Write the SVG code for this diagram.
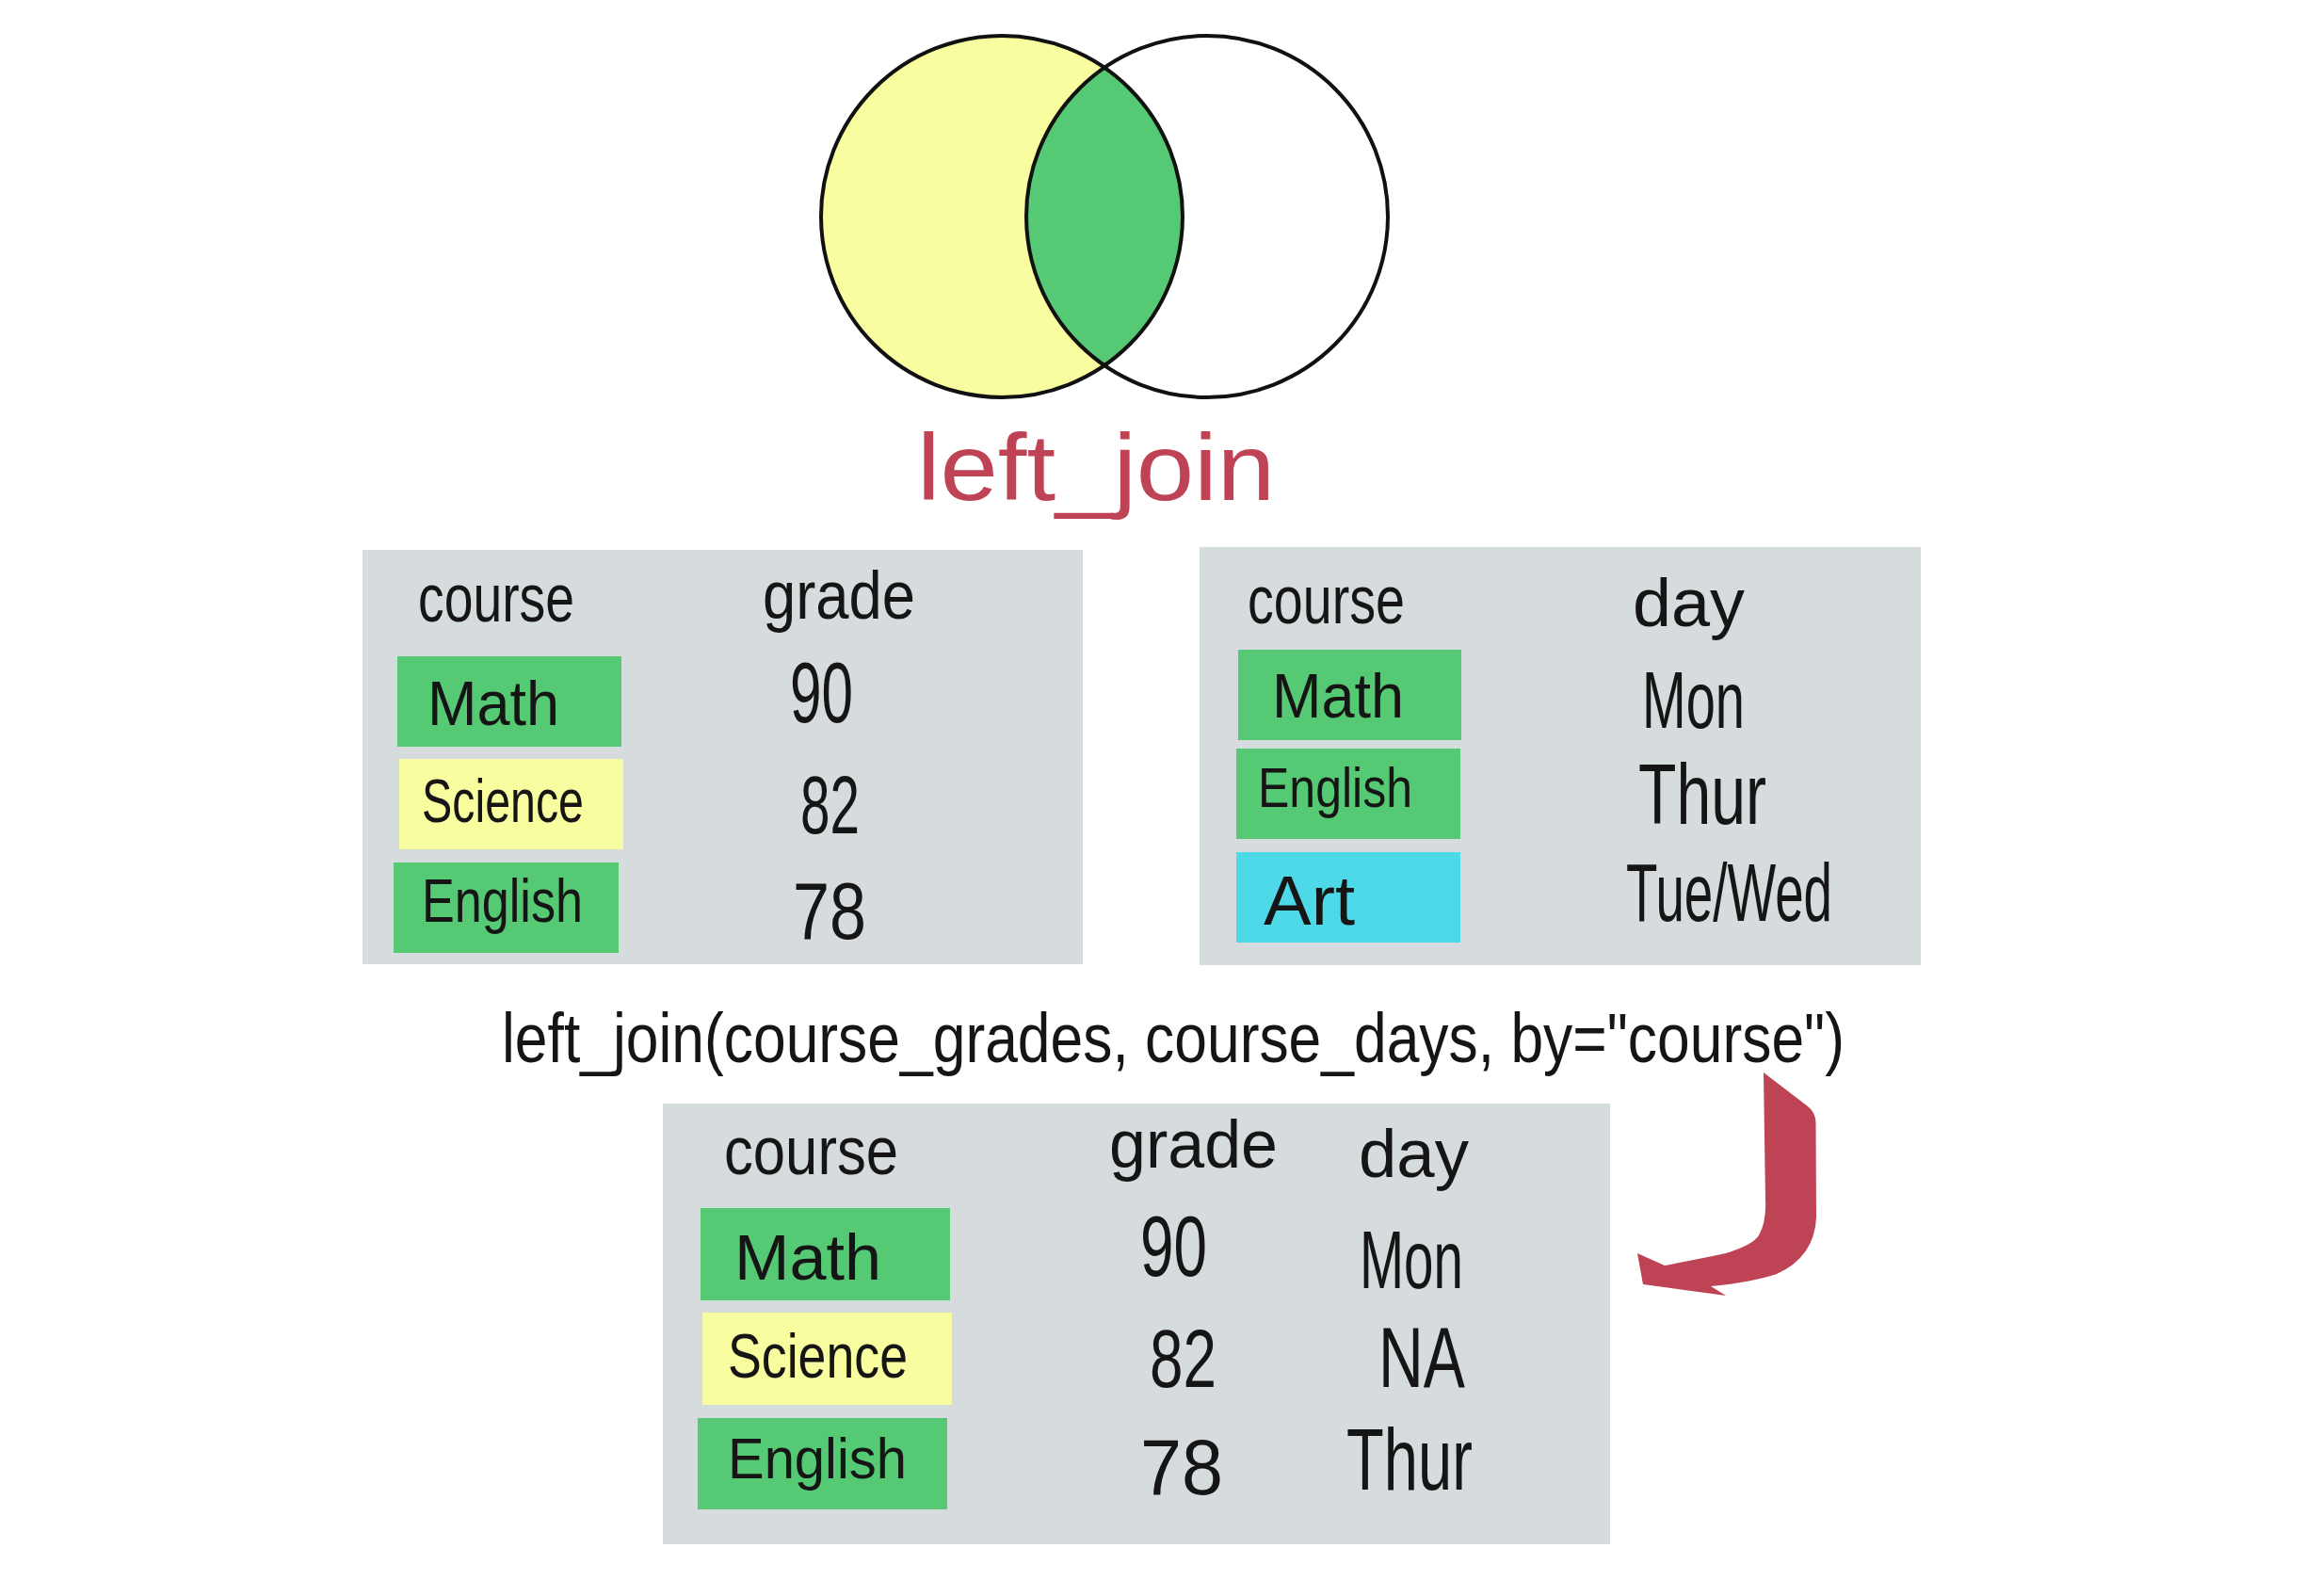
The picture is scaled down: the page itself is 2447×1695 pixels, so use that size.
<svg xmlns="http://www.w3.org/2000/svg" width="2447" height="1695" viewBox="0 0 2447 1695">
<style>
text{font-family:"Liberation Sans Narrow","Liberation Sans",sans-serif;font-weight:400;fill:#151515}
.hd{font-size:72px}
.red{fill:#BE4455;font-size:100px}
.code{font-size:74px}
.bg{fill:#D6DBDE}
.gr{fill:#55C973}
.ye{fill:#F8FD9F}
.cy{fill:#4ED9E8}
.ring{fill:none;stroke:#111;stroke-width:4}
</style>
<defs>
<clipPath id="rc"><circle cx="1282" cy="230" r="192"/></clipPath>
</defs>
<rect width="2447" height="1695" fill="#fff"/>
<g id="venn">
<circle cx="1064" cy="230" r="192" class="ye"/>
<circle cx="1064" cy="230" r="192" class="gr" clip-path="url(#rc)"/>
<circle cx="1064" cy="230" r="192" class="ring"/>
<circle cx="1282" cy="230" r="192" class="ring"/>
</g>
<g id="title">
<text class="red" x="974" y="531" textLength="380" lengthAdjust="spacingAndGlyphs">left_join</text>
</g>
<g id="table1">
<rect class="bg" x="385" y="584" width="765" height="440"/>
<text class="hd" x="444" y="660" textLength="166" lengthAdjust="spacingAndGlyphs">course</text>
<text class="hd" x="810" y="657" textLength="162" lengthAdjust="spacingAndGlyphs">grade</text>
<rect class="gr" x="422" y="697" width="238" height="96"/>
<text x="454" y="770" font-size="66" textLength="140" lengthAdjust="spacingAndGlyphs">Math</text>
<text x="839" y="767" font-size="90" textLength="67" lengthAdjust="spacingAndGlyphs">90</text>
<rect class="ye" x="424" y="806" width="238" height="96"/>
<text x="448" y="873" font-size="64" textLength="172" lengthAdjust="spacingAndGlyphs">Science</text>
<text x="850" y="885" font-size="88" textLength="63" lengthAdjust="spacingAndGlyphs">82</text>
<rect class="gr" x="418" y="916" width="239" height="96"/>
<text x="448" y="979" font-size="64" textLength="171" lengthAdjust="spacingAndGlyphs">English</text>
<text x="842" y="997" font-size="86" textLength="78" lengthAdjust="spacingAndGlyphs">78</text>
</g>
<g id="table2">
<rect class="bg" x="1274" y="581" width="766" height="444"/>
<text class="hd" x="1325" y="662" textLength="167" lengthAdjust="spacingAndGlyphs">course</text>
<text class="hd" x="1734" y="665" textLength="119" lengthAdjust="spacingAndGlyphs">day</text>
<rect class="gr" x="1315" y="690" width="237" height="96"/>
<text x="1351" y="762" font-size="66" textLength="140" lengthAdjust="spacingAndGlyphs">Math</text>
<text x="1744" y="773" font-size="86" textLength="109" lengthAdjust="spacingAndGlyphs">Mon</text>
<rect class="gr" x="1313" y="795" width="238" height="96"/>
<text x="1336" y="857" font-size="60" textLength="164" lengthAdjust="spacingAndGlyphs">English</text>
<text x="1740" y="875" font-size="90" textLength="136" lengthAdjust="spacingAndGlyphs">Thur</text>
<rect class="cy" x="1313" y="905" width="238" height="96"/>
<text x="1342" y="982" font-size="74" textLength="97" lengthAdjust="spacingAndGlyphs">Art</text>
<text x="1727" y="978" font-size="88" textLength="219" lengthAdjust="spacingAndGlyphs">Tue/Wed</text>
</g>
<g id="code">
<text class="code" x="533" y="1128" textLength="1426" lengthAdjust="spacingAndGlyphs">left_join(course_grades, course_days, by="course")</text>
</g>
<g id="table3">
<rect class="bg" x="704" y="1172" width="1006" height="468"/>
<text class="hd" x="769" y="1247" textLength="185" lengthAdjust="spacingAndGlyphs">course</text>
<text class="hd" x="1178" y="1240" textLength="179" lengthAdjust="spacingAndGlyphs">grade</text>
<text class="hd" x="1443" y="1250" textLength="117" lengthAdjust="spacingAndGlyphs">day</text>
<rect class="gr" x="744" y="1283" width="265" height="98"/>
<text x="780" y="1359" font-size="68" textLength="156" lengthAdjust="spacingAndGlyphs">Math</text>
<text x="1211" y="1355" font-size="90" textLength="71" lengthAdjust="spacingAndGlyphs">90</text>
<text x="1444" y="1368" font-size="88" textLength="110" lengthAdjust="spacingAndGlyphs">Mon</text>
<rect class="ye" x="746" y="1394" width="265" height="98"/>
<text x="773" y="1463" font-size="66" textLength="191" lengthAdjust="spacingAndGlyphs">Science</text>
<text x="1221" y="1473" font-size="88" textLength="71" lengthAdjust="spacingAndGlyphs">82</text>
<text x="1464" y="1473" font-size="90" textLength="92" lengthAdjust="spacingAndGlyphs">NA</text>
<rect class="gr" x="741" y="1506" width="265" height="97"/>
<text x="773" y="1570" font-size="62" textLength="190" lengthAdjust="spacingAndGlyphs">English</text>
<text x="1211" y="1587" font-size="84" textLength="88" lengthAdjust="spacingAndGlyphs">78</text>
<text x="1430" y="1582" font-size="92" textLength="134" lengthAdjust="spacingAndGlyphs">Thur</text>
</g>
<g id="connectors">
<path fill="#BE4455" d="M1873 1139 L1920 1175 Q1928 1181 1928.5 1192 L1929 1293 Q1927 1335 1887 1353 Q1860 1362 1817 1366 L1833 1376 L1745 1364 L1739 1331 L1768 1344 Q1805 1337 1833 1331 Q1862 1322 1868 1312 Q1876 1298 1875 1275 Z"/>
</g>
</svg>
